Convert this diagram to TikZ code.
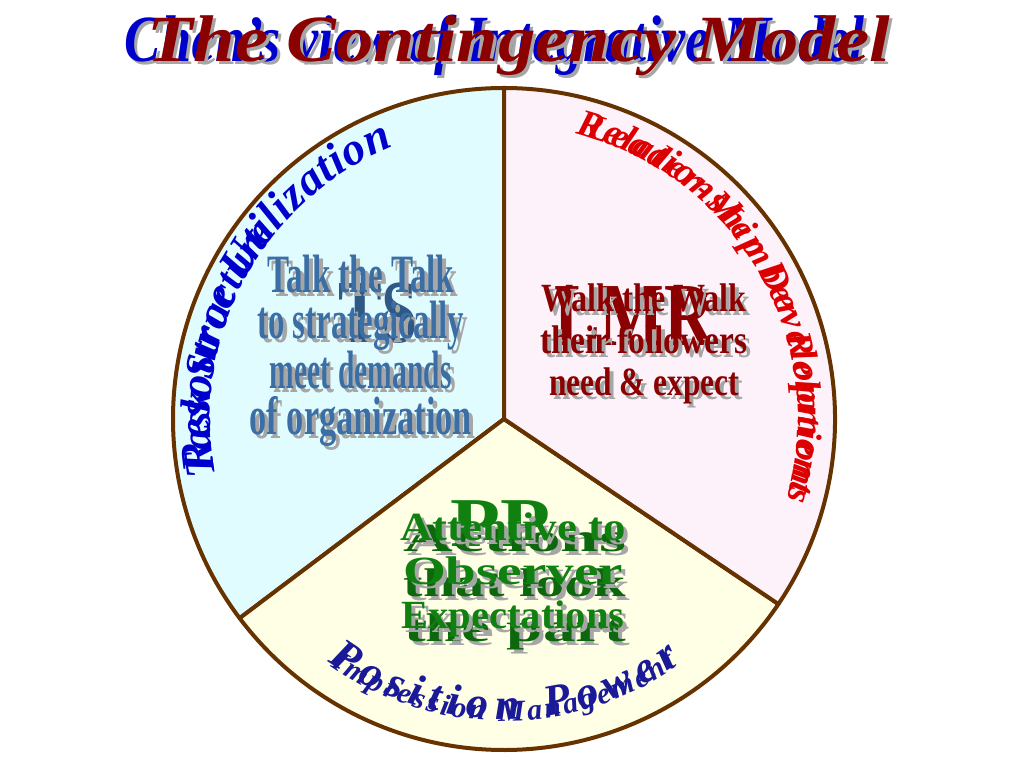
\documentclass[tikz,border=0pt]{standalone}
\usepackage{fontspec}
\setmainfont{Liberation Serif}
\usetikzlibrary{decorations.text,positioning}
\definecolor{PieBrown}{HTML}{663300}
\definecolor{SkyFill}{HTML}{E0FCFF}
\definecolor{RoseFill}{HTML}{FDF2FA}
\definecolor{CreamFill}{HTML}{FFFFE6}
\definecolor{TitleRed}{HTML}{8B0000}
\definecolor{TitleBlue}{HTML}{0000CC}
\definecolor{SteelText}{HTML}{3B6EA5}
\definecolor{WineText}{HTML}{8B0000}
\definecolor{LeafText}{HTML}{108010}
\definecolor{ArcRed}{HTML}{DD0000}
\definecolor{ArcNavy}{HTML}{1A1A99}
\newcommand{\fitw}[2]{\resizebox{#1}{\height}{#2}}

\begin{document}
\begin{tikzpicture}[x=1pt, y=1pt,
    sector/.style={draw=PieBrown, line width=4pt, line join=round},
    titletext/.style={inner sep=0pt, font=\fontsize{66}{66}\selectfont\bfseries\itshape},
    inner/.style={inner sep=0pt, align=center, font=\fontsize{54}{46}\selectfont\bfseries},
    biglabel/.style={inner sep=0pt, font=\fontsize{90}{90}\selectfont\bfseries},
    dropshade/.style={text=black!35}
  ]
    \useasboundingbox (0,0) rectangle (1024,768);
    \coordinate (o) at (504,349);

    % pie
    \filldraw[sector, fill=SkyFill] (o) -- ++(90:331pt) arc[start angle=90, end angle=217, radius=331pt] -- cycle;
    \filldraw[sector, fill=CreamFill] (o) -- ++(217:331pt) arc[start angle=217, end angle=326, radius=331pt] -- cycle;
    \filldraw[sector, fill=RoseFill] (o) -- ++(-34:331pt) arc[start angle=-34, end angle=90, radius=331pt] -- cycle;

    % titles
    \node[titletext, dropshade, anchor=base] (viewtitle-s) at (498,703) {\fitw{740pt}{Chen's view of Integrative Model}};
    \node[titletext, text=TitleBlue, anchor=base] (viewtitle) at (495,706) {\fitw{740pt}{Chen's view of Integrative Model}};
    \node[titletext, dropshade, anchor=base] (modeltitle-s) at (522,703) {\fitw{742pt}{The Contingency Model}};
    \node[titletext, text=TitleRed, anchor=base] (modeltitle) at (519,706) {\fitw{742pt}{The Contingency Model}};

    % left sector
    \node[biglabel, text=SteelText!80!black] (ts) at (378,455) {\fitw{80pt}{TS}};
    \node[inner, dropshade, anchor=east] (talk-s) at (476,413) {\fitw{187pt}{Talk the Talk}\\\fitw{207pt}{to strategically}\\\fitw{182pt}{meet demands}\\\fitw{222pt}{of organization}};
    \node[inner, text=SteelText, anchor=east] (talk) at (472,417) {\fitw{187pt}{Talk the Talk}\\\fitw{207pt}{to strategically}\\\fitw{182pt}{meet demands}\\\fitw{222pt}{of organization}};

    % right sector
    \node[biglabel, text=WineText] (lmr) at (634,452) {\fitw{160pt}{LMR}};
    \node[inner, dropshade, font=\fontsize{40}{42}\selectfont\bfseries] (walk-s) at (648,420) {\fitw{205pt}{Walk the Walk}\\\fitw{207pt}{their followers}\\\fitw{190pt}{need \& expect}};
    \node[inner, text=WineText, font=\fontsize{40}{42}\selectfont\bfseries] (walk) at (644,424) {\fitw{205pt}{Walk the Walk}\\\fitw{207pt}{their followers}\\\fitw{190pt}{need \& expect}};

    % bottom sector
    \node[biglabel, text=LeafText, font=\fontsize{70}{70}\selectfont\bfseries] (pp) at (500,244) {\fitw{100pt}{PP}};
    \node[inner, dropshade, font=\fontsize{40}{45}\selectfont\bfseries] (actions-s) at (519,177) {\fitw{222pt}{Actions}\\\fitw{222pt}{that look}\\\fitw{222pt}{the part}};
    \node[inner, text=LeafText!80!black, font=\fontsize{40}{45}\selectfont\bfseries] (actions) at (515,181) {\fitw{222pt}{Actions}\\\fitw{222pt}{that look}\\\fitw{222pt}{the part}};
    \node[inner, dropshade, font=\fontsize{40}{44}\selectfont\bfseries] (attentive-s) at (517,189) {\fitw{225pt}{Attentive to}\\\fitw{220pt}{Observer}\\\fitw{223pt}{Expectations}};
    \node[inner, text=LeafText, font=\fontsize{40}{44}\selectfont\bfseries] (attentive) at (513,193) {\fitw{225pt}{Attentive to}\\\fitw{220pt}{Observer}\\\fitw{223pt}{Expectations}};

    % arc labels
    \path[decorate, decoration={text along path, text align=left,
        text={|\fontsize{42}{42}\selectfont\bfseries\itshape\color{TitleBlue}|Task Structure}}]
      (o) ++(191:294pt) arc[start angle=191, end angle=112, radius=294pt];
    \path[decorate, decoration={text along path, text align=fit to path,
        text={|\fontsize{46}{46}\selectfont\bfseries\itshape\color{TitleBlue}|Resource Utilization}}]
      (o) ++(190:294pt) arc[start angle=190, end angle=112, radius=294pt];
    \path[decorate, decoration={text along path, text align=fit to path,
        text={|\fontsize{36}{36}\selectfont\bfseries\itshape\color{ArcRed}|Leader-Member Relations}}]
      (o) ++(74:294pt) arc[start angle=74, end angle=-16, radius=294pt];
    \path[decorate, decoration={text along path, text align=fit to path,
        text={|\fontsize{38}{38}\selectfont\bfseries\itshape\color{ArcRed}|Relationship Development}}]
      (o) ++(76:294pt) arc[start angle=76, end angle=-14, radius=294pt];
    \path[decorate, decoration={text along path, text align=fit to path,
        text={|\fontsize{30}{30}\selectfont\bfseries\itshape\color{ArcNavy}|Impression Management}}]
      (o) ++(-125:302pt) arc[start angle=-125, end angle=-55, radius=302pt];
    \path[decorate, decoration={text along path, text align=fit to path,
        text={|\fontsize{44}{44}\selectfont\bfseries\itshape\color{ArcNavy}|Position Power}}]
      (o) ++(-126:300pt) arc[start angle=-126, end angle=-54, radius=300pt];
\end{tikzpicture}
\end{document}
